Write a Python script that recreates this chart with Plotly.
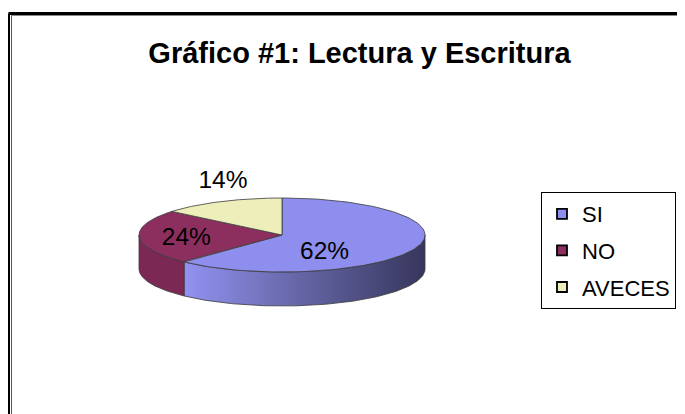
import numpy as np
import plotly.graph_objects as go

# ---------------- data ----------------
categories = ["SI", "NO", "AVECES"]
values = [62, 24, 14]
title_text = "Gráfico #1: Lectura y Escritura"

# ---------------- style ----------------
top_colors = ["#8E8EEE", "#8C2E5E", "#EEEEBB"]
side_colors = [
    [[0, "#9292F2"], [0.45, "#6868AA"], [1, "#36365C"]],
    [[0, "#7C2854"], [1, "#7C2854"]],
    [[0, "#D8D8A8"], [1, "#D8D8A8"]],
]
OUTLINE = "#3a3a3a"
FONT = "Liberation Sans"

W, H = 685, 414
OFF = 8  # page body margin: axes are set so 1 unit == 1 window pixel

# pie geometry in window pixel units
CX, CY, RX, RY, DEPTH = 282, 235, 143, 37, 34
# label placement factors (radial, along x and y) per slice
LABEL_K = [(0.32, 1.32), (0.67, 1.70), (0.97, 1.60)]


def px(x):
    return (x - OFF) / W


def py(y):
    return 1 - (y - OFF) / H


def arc(a, b, dy=0.0, n=120):
    t = np.radians(np.linspace(a, b, n))
    return CX + RX * np.sin(t), CY - RY * np.cos(t) + dy


total = float(sum(values))
angles = np.concatenate([[0.0], np.cumsum(values) / total * 360.0])

fig = go.Figure()

# side walls (front half only: 90..270 degrees clockwise from top)
for i, cat in enumerate(categories):
    a, b = angles[i], angles[i + 1]
    lo, hi = max(a, 90.0), min(b, 270.0)
    if hi <= lo:
        continue
    xt, yt = arc(lo, hi)
    xb, yb = arc(hi, lo, DEPTH)
    xs = np.concatenate([xt, xb, xt[:1]])
    ys = np.concatenate([yt, yb, yt[:1]])
    fig.add_trace(go.Scatter(
        x=xs, y=ys, mode="lines", fill="toself",
        fillgradient=dict(type="horizontal", colorscale=side_colors[i]),
        line=dict(color=OUTLINE, width=0.8),
        showlegend=False, hoverinfo="skip",
    ))

# top faces
for i, cat in enumerate(categories):
    a, b = angles[i], angles[i + 1]
    xa, ya = arc(a, b)
    xs = np.concatenate([[CX], xa, [CX]])
    ys = np.concatenate([[CY], ya, [CY]])
    fig.add_trace(go.Scatter(
        x=xs, y=ys, mode="lines", fill="toself",
        fillcolor=top_colors[i],
        line=dict(color=OUTLINE, width=0.8),
        showlegend=False, hoverinfo="text",
        text=f"{cat}: {values[i]}%",
    ))

# percentage labels
lx, ly, lt = [], [], []
for i, v in enumerate(values):
    mid = np.radians((angles[i] + angles[i + 1]) / 2)
    kx, ky = LABEL_K[i]
    lx.append(CX + RX * kx * np.sin(mid))
    ly.append(CY - RY * ky * np.cos(mid))
    lt.append(f"{round(v / total * 100)}%")
fig.add_trace(go.Scatter(
    x=lx, y=ly, mode="text", text=lt,
    textfont=dict(family=FONT, size=24.5, color="black"),
    showlegend=False, hoverinfo="skip",
))

# legend entries
for i, cat in enumerate(categories):
    fig.add_trace(go.Scatter(
        x=[None], y=[None], mode="markers", name=cat,
        marker=dict(symbol="square", size=10, color=top_colors[i],
                    line=dict(color="black", width=1.8)),
        legendgroup=cat,
    ))

# chart border (double frame)
shapes = [
    dict(type="line", x0=8.5, y0=13.5, x1=W + 40, y1=13.5,
         line=dict(color="black", width=3)),
    dict(type="line", x0=8.5, y0=13.5, x1=8.5, y1=H + 40,
         line=dict(color="black", width=3)),
    dict(type="line", x0=11.5, y0=15.5, x1=W + 40, y1=15.5,
         line=dict(color="#888888", width=1)),
    dict(type="line", x0=11.5, y0=15.5, x1=11.5, y1=H + 40,
         line=dict(color="#555555", width=1)),
]

fig.update_layout(
    width=W, height=H,
    margin=dict(l=0, r=0, t=0, b=0),
    paper_bgcolor="white", plot_bgcolor="white",
    xaxis=dict(range=[OFF, OFF + W], visible=False, fixedrange=True),
    yaxis=dict(range=[OFF + H, OFF], visible=False, fixedrange=True),
    shapes=shapes,
    title=dict(
        text=title_text, x=px(359.5), xanchor="center",
        y=py(53), yanchor="middle", yref="container",
        font=dict(family=FONT, size=29, color="black", weight="bold"),
    ),
    legend=dict(
        x=px(541), xanchor="left", y=py(192), yanchor="top",
        bgcolor="white", bordercolor="black", borderwidth=1,
        font=dict(family=FONT, size=22, color="black"),
        tracegroupgap=5, itemwidth=30,
    ),
    showlegend=True,
)

fig.write_html("out.html")
